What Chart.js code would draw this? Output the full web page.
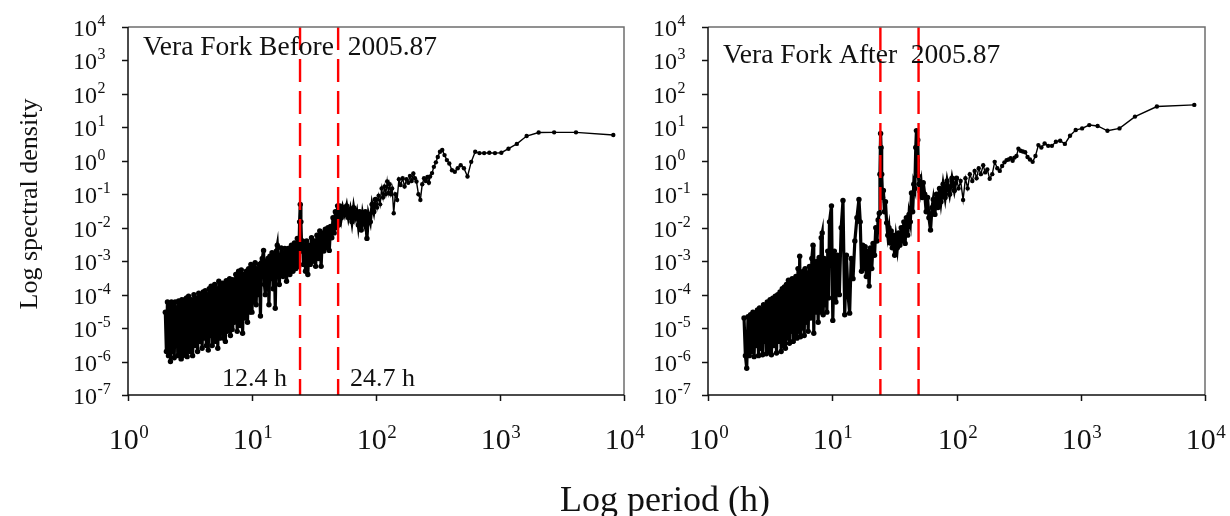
<!DOCTYPE html>
<html>
<head>
<meta charset="utf-8">
<script src="https://cdn.jsdelivr.net/npm/chart.js@4"></script>
<style>
  html, body { margin: 0; padding: 0; background: #fff; }
  #wrap { position: relative; width: 1230px; height: 516px; }
  #wrap canvas { position: absolute; left: 0; top: 0; }
</style>
</head>
<body>
<div id="wrap">
  <canvas id="chartBefore" width="1230" height="516"></canvas>
  <canvas id="chartAfter" width="1230" height="516"></canvas>
</div>
<script>
// Dane (okres w h, gestosc widmowa)
const beforePeriod = [
  2.00, 2.04, 2.08, 2.12, 2.16, 2.20, 2.24, 2.28, 2.32, 2.36, 2.40, 2.44, 2.48, 2.52, 2.56, 2.60, 2.64, 2.68, 2.72, 2.76,
  2.80, 2.84, 2.88, 2.92, 2.96, 3.00, 3.08, 3.16, 3.24, 3.32, 3.40, 3.48, 3.56, 3.64, 3.72, 3.80, 3.88, 3.96, 4.04, 4.12,
  4.20, 4.28, 4.36, 4.44, 4.52, 4.60, 4.68, 4.76, 4.84, 4.92,
  5.00, 5.10, 5.20, 5.30, 5.40, 5.50, 5.60, 5.70, 5.80, 5.90, 6.00, 6.10, 6.20, 6.30, 6.40, 6.50, 6.60, 6.70, 6.80, 6.90,
  7.00, 7.20, 7.40, 7.60, 7.80, 8.00, 8.20, 8.40, 8.60, 8.80, 9.00, 9.20, 9.40, 9.60, 9.80,
  10.0, 10.2, 10.4, 10.6, 10.8, 11.0, 11.2, 11.45, 11.7, 11.9, 12.1, 12.4, 12.6, 12.8, 13.0, 13.2, 13.45, 13.7, 13.95, 14.2,
  14.5, 14.8, 15.1, 15.4, 15.7, 16.0, 16.6, 17.2, 17.8, 18.4, 19.0, 19.6, 20.2,
  20.8, 21.4, 22.0, 22.6, 23.2, 23.8, 24.2, 24.5, 24.8,
  25.2, 25.6, 26.0, 26.5, 27.0, 27.6, 28.2, 28.8, 29.5, 30.2, 31.0, 31.8, 32.6, 33.4, 34.3, 35.2, 36.1, 37.0, 38.0, 39.0,
  40.0, 41.0, 42.0, 43.0, 44.0, 45.0, 46.0, 47.0, 48.0, 49.0,
  50, 51, 52.5, 54, 56, 58, 60, 62, 64, 66, 68, 70, 72, 74, 76, 78, 80, 82, 84.5, 87, 90, 93, 96, 99, 102, 105, 108,
  111, 114, 117, 120, 123, 126, 129, 132, 135, 139, 143, 148, 153, 158, 164, 170, 176, 182, 188, 194, 200, 206, 212,
  220, 228, 236, 244, 252, 260, 267,
  273, 283, 293, 304, 315, 328, 342, 357, 373, 390, 410, 432, 456, 482, 512, 547, 586, 631, 683, 745, 820, 911, 1025,
  1171, 1367, 1640, 2050, 2733, 4100, 8200
];
const beforeDensity = [
  3e-5, 2e-6, 6e-5, 1.5e-6, 5e-5, 1e-6, 6e-5, 2e-6, 5.5e-5, 1.3e-6, 6e-5, 3e-6, 4e-5, 1.5e-6, 6.5e-5, 2e-6, 5e-5, 1.2e-6, 7e-5, 1.5e-6,
  6e-5, 3e-6, 7e-5, 1.6e-6, 8e-5, 1.4e-6, 9e-5, 2e-6, 7e-5, 1.5e-6, 1e-4, 3e-6, 8e-5, 2e-6, 1.1e-4, 4e-6, 9e-5, 2.5e-6, 1.2e-4, 5e-6,
  1.3e-4, 3e-6, 1e-4, 2.2e-6, 1.5e-4, 6e-6, 1.8e-4, 3e-6, 1.4e-4, 8e-6,
  2e-4, 4e-6, 1.5e-4, 2.5e-6, 2.5e-4, 5e-6, 1.8e-4, 7e-6, 2.2e-4, 5e-6, 2e-4, 4e-6, 2.6e-4, 8e-6, 2e-4, 1e-5, 3e-4, 6e-6, 2.5e-4, 9e-6,
  2.8e-4, 1.5e-5, 4e-4, 8e-6, 5e-4, 1.2e-5, 5.5e-4, 7e-6, 4e-4, 2e-5, 5e-4, 1.5e-5, 6e-4, 3e-5, 8e-4,
  3e-5, 7e-4, 6e-5, 9e-4, 5e-5, 6e-4, 1e-4, 8e-4, 2.3e-5, 9e-4, 1.2e-3, 2.1e-3, 2e-4, 1e-4, 1e-3, 1.5e-4, 1.2e-3, 5e-5, 1.4e-3, 3e-4,
  1.8e-3, 1.5e-4, 1.5e-3, 3.9e-5, 2e-3, 3e-3, 2e-4, 2.5e-3, 3.5e-4, 2.4e-3, 2.5e-4, 2.4e-3, 4e-4,
  3e-3, 5e-4, 3.5e-3, 6e-4, 4.8e-3, 7e-4, 1.5e-2, 5e-2, 1.5e-2,
  2e-3, 4e-3, 8e-4, 3e-3, 5e-4, 4e-3, 4e-4, 3e-3, 8e-4, 5e-3, 1e-3, 4e-3, 7e-4, 6e-3, 1.2e-3, 8e-3, 7e-4, 7e-3, 2e-3, 9e-3,
  2.5e-3, 1e-2, 2.1e-3, 1.1e-2, 5e-3, 2e-2, 7e-3, 3e-2, 1e-2, 4.5e-2,
  1.2e-2, 4.5e-2, 2e-2, 4e-2, 2.5e-2, 4.5e-2, 2e-2, 3.5e-2, 1.5e-2, 4e-2, 2e-2, 3e-2, 1.2e-2, 3e-2, 8.5e-3, 2.5e-2, 1.5e-2, 3e-2, 4.8e-3, 2.5e-2, 1.5e-2, 5e-2, 3e-2, 7e-2, 4e-2, 9e-2, 5e-2,
  0.15, 0.08, 0.17, 0.10, 0.24, 0.11, 0.20, 0.10, 0.15, 0.027, 0.10, 0.068, 0.28, 0.19, 0.30, 0.17, 0.28, 0.22, 0.35, 0.25, 0.42, 0.30, 0.24,
  0.10, 0.068, 0.20, 0.30, 0.25, 0.33, 0.22,
  0.34, 0.43, 0.66, 0.90, 1.3, 1.86, 2.1, 1.48, 1.05, 0.83, 0.52, 0.47, 0.60, 0.74, 0.60, 0.34, 0.93, 1.86, 1.7, 1.7, 1.75, 1.7, 1.75,
  2.3, 3.2, 5.5, 7.0, 7.1, 7.1, 5.9
];

const afterPeriod = [
  1.95, 2.00, 2.05, 2.10, 2.15, 2.20, 2.25, 2.30, 2.35, 2.40, 2.45, 2.50, 2.55, 2.60, 2.65, 2.70, 2.75, 2.80, 2.85, 2.90,
  2.95, 3.00, 3.08, 3.16, 3.24, 3.32, 3.40, 3.48, 3.56, 3.64, 3.72, 3.80, 3.88, 3.96, 4.04, 4.12, 4.20, 4.28, 4.36, 4.44,
  4.52, 4.60, 4.68, 4.76, 4.84, 4.92, 5.00, 5.10, 5.20, 5.30, 5.40, 5.47, 5.55, 5.65, 5.75, 5.85, 5.95, 6.05, 6.15, 6.25,
  6.40, 6.55, 6.70, 6.85, 7.00, 7.10, 7.25, 7.40, 7.55, 7.70, 7.85, 8.00, 8.15, 8.30, 8.45, 8.60, 8.75, 8.90, 9.05, 9.20,
  9.35, 9.50, 9.86, 10.1, 10.4, 10.7, 11.0, 11.4, 11.8, 12.2, 12.6, 13.0, 13.4, 13.8, 14.2, 14.7, 15.2, 15.8, 16.4, 16.8,
  17.2, 17.6, 18.0, 18.4, 18.8, 19.3, 19.8, 20.3, 20.8, 21.3, 21.9, 22.4, 22.9, 23.4, 23.9, 24.2, 24.5, 24.7, 25.0, 25.4,
  25.8, 26.3, 26.8, 27.4, 28.0, 28.6, 29.2, 29.8, 30.4, 31.0, 31.8, 32.6, 33.4, 34.2, 35.0, 35.9, 36.8, 37.7, 38.6, 39.5,
  40.5, 41.5, 42.5, 43.4, 44.4, 45.3, 46.2, 47.0, 47.6, 48.2, 48.8, 49.4, 50.0, 51.0, 52.0, 53.0, 54.0, 55.5, 57.0, 58.5,
  60.0, 61.8, 63.5, 65.0, 67.0, 69.0, 71.0, 73.0, 75.0, 78.0, 81.0, 84.0, 88.0, 92.0, 96.0, 100, 104, 108, 113, 118,
  123, 128, 134, 140, 145, 151, 157, 164, 170, 177, 185, 194, 203, 213, 223, 233, 243, 253, 263,
  273, 283, 293, 304, 315, 328, 342, 357, 373, 390, 410, 432, 456, 482, 512, 547, 586, 631, 683, 745, 820, 911, 1025,
  1171, 1367, 1640, 2050, 2733, 4100, 8200
];
const afterDensity = [
  2e-5, 1.5e-6, 6.3e-7, 2.2e-5, 1.5e-6, 2.5e-5, 2e-6, 3e-5, 1.4e-6, 2.8e-5, 3e-6, 3.5e-5, 1.5e-6, 4e-5, 2.5e-6, 3.5e-5, 1.6e-6, 5e-5, 4e-6, 4e-5,
  1.7e-6, 6e-5, 2e-6, 7e-5, 1.6e-6, 7.8e-5, 3e-6, 9e-5, 1.8e-6, 1e-4, 4e-6, 1.2e-4, 2e-6, 1.5e-4, 3e-6, 1.7e-4, 2.5e-6, 2e-4, 5e-6, 2.7e-4,
  3.5e-6, 2.2e-4, 8e-6, 3e-4, 4e-6, 2.5e-4, 1e-5, 3.5e-4, 5e-6, 6e-4, 8e-6, 1.4e-3, 5.5e-6, 4e-4, 1e-5, 5e-4, 6e-6, 6e-4, 1.5e-5, 4.5e-4,
  8e-6, 7e-4, 2e-5, 1.2e-3, 3e-3, 7e-6, 8e-4, 3e-5, 1e-3, 1.5e-5, 1.3e-3, 3e-5, 5e-3, 7e-3, 2.5e-5, 1.2e-3, 5e-5, 1e-3, 3e-5, 2e-3,
  8e-5, 1.5e-2, 4.5e-2, 1.7e-5, 2e-3, 6e-5, 1.5e-3, 1e-4, 1e-2, 6.5e-2, 2.5e-5, 1.5e-3, 1e-4, 2.8e-5, 1.2e-3, 3e-4, 4e-3, 2e-2, 7e-2, 1.5e-2,
  5e-4, 3e-3, 6e-4, 2.7e-3, 3.5e-4, 2e-3, 1.8e-4, 2.5e-3, 6e-4, 3.4e-3, 1.5e-3, 1e-2, 4e-3, 1.7e-2, 2.7e-2, 0.4, 6.6, 2.5, 0.4, 8e-2,
  0.13, 3e-2, 6e-2, 1.4e-2, 6e-3, 1e-2, 3.5e-3, 8e-3, 2.5e-3, 6e-3, 1.5e-3, 5e-3, 2.5e-3, 7e-3, 3e-3, 1e-2, 4e-3, 1.5e-2, 3.4e-3, 2e-2,
  6e-3, 2.5e-2, 1.5e-2, 0.11, 3e-2, 0.2, 0.15, 2.5, 8.0, 1.0, 4.2, 0.35, 0.2, 0.12, 0.2, 8e-2, 0.22, 0.1, 3e-2, 8e-2,
  2e-2, 8.5e-3, 4e-2, 7e-2, 2.5e-2, 0.1, 4e-2, 0.15, 6e-2, 0.2, 8e-2, 0.25, 0.1, 0.3, 0.13, 0.3, 0.15, 0.25, 6.8e-2, 0.3,
  0.15, 0.4, 0.25, 0.5, 0.3, 0.6, 0.4, 0.74, 0.45, 0.55, 0.29, 0.4, 0.93, 0.6, 0.5, 0.7, 0.9, 1.05, 1.1,
  1.2, 1.0, 1.25, 1.4, 2.3, 2.0, 1.9, 1.8, 1.3, 1.1, 0.93, 1.4, 2.95, 2.5, 3.3, 2.8, 2.8, 3.7, 4.0, 3.2, 5.6, 8.3, 9.3,
  11.7, 11, 7.9, 9.3, 21, 42, 47
];

// Linie przerywane (okresy plywow)
const tidalPeriods = [24.4, 49.5];
// Podzialki osi (wykladniki potegi 10)
const xTickExponents = [0, 1, 2, 3, 4];
const yTickExponents = [-7, -6, -5, -4, -3, -2, -1, 0, 1, 2, 3, 4];

const SERIF = "'Liberation Serif', 'Times New Roman', serif";
// do tego okresu punkty leza gesto - rysujemy grubiej
const DENSE_LIMIT = 100;

function toPoints(xs, ys) {
  return xs.map((x, i) => ({ x: x, y: ys[i] }));
}

// tekst "10^n" z indeksem gornym
function drawPower(ctx, x, baseY, sup, fs, sfs, rise, align) {
  ctx.font = fs + 'px ' + SERIF;
  const w1 = ctx.measureText('10').width;
  ctx.font = sfs + 'px ' + SERIF;
  const w2 = ctx.measureText(sup).width;
  let start = x;
  if (align === 'center') start = x - (w1 + w2) / 2;
  ctx.textAlign = 'left';
  ctx.textBaseline = 'alphabetic';
  ctx.font = fs + 'px ' + SERIF;
  ctx.fillText('10', start, baseY);
  ctx.font = sfs + 'px ' + SERIF;
  ctx.fillText(sup, start + w1 + 0.5, baseY - rise);
}

const framePlugin = {
  id: 'frame',
  afterDraw(chart, args, opts) {
    const ctx = chart.ctx;
    const a = chart.chartArea;
    const xs = chart.scales.x;
    const ys = chart.scales.y;
    ctx.save();

    // gorna i prawa krawedz - szara
    ctx.lineWidth = 1.5;
    ctx.strokeStyle = '#6e6e6e';
    ctx.beginPath();
    ctx.moveTo(a.left, a.top);
    ctx.lineTo(a.right, a.top);
    ctx.lineTo(a.right, a.bottom);
    ctx.stroke();

    // osie
    ctx.strokeStyle = '#111';
    ctx.beginPath();
    ctx.moveTo(a.left, a.top);
    ctx.lineTo(a.left, a.bottom);
    ctx.lineTo(a.right, a.bottom);
    ctx.stroke();

    ctx.fillStyle = '#111';
    yTickExponents.forEach(e => {
      const py = Math.round(ys.getPixelForValue(Math.pow(10, e))) + 0.5;
      ctx.beginPath();
      ctx.moveTo(a.left - 6, py);
      ctx.lineTo(a.left, py);
      ctx.stroke();
      drawPower(ctx, a.left - 55, py + 8, String(e), 24, 16, 10, 'left');
    });
    xTickExponents.forEach(e => {
      const px = Math.round(xs.getPixelForValue(Math.pow(10, e))) + 0.5;
      ctx.beginPath();
      ctx.moveTo(px, a.bottom);
      ctx.lineTo(px, a.bottom + 6);
      ctx.stroke();
      drawPower(ctx, px, 449, String(e), 30, 19, 11, 'center');
    });

    // tytul panelu
    ctx.font = '27.5px ' + SERIF;
    ctx.textAlign = 'left';
    ctx.textBaseline = 'alphabetic';
    ctx.fillText(opts.title, a.left + 15, opts.titleY);

    (opts.notes || []).forEach(n => {
      ctx.font = '26px ' + SERIF;
      ctx.fillText(n.text, n.x, n.y);
    });

    if (opts.axisTitles) {
      ctx.font = '36px ' + SERIF;
      ctx.textAlign = 'center';
      ctx.fillText('Log period (h)', 665, 511);
      ctx.save();
      ctx.translate(37, 204);
      ctx.rotate(-Math.PI / 2);
      ctx.font = '26px ' + SERIF;
      ctx.fillText('Log spectral density', 0, 0);
      ctx.restore();
    }
    ctx.restore();
  }
};

function makeChart(canvasId, periods, density, pad, frameOpts) {
  const pts = toPoints(periods, density);
  // gesta czesc widma (krotkie okresy) i rzadka czesc (dlugie okresy)
  const densePts = pts.filter(p => p.x <= DENSE_LIMIT);
  const sparsePts = pts.filter(p => p.x >= densePts[densePts.length - 1].x);
  const datasets = [{
    data: densePts,
    showLine: true,
    borderColor: '#000',
    borderWidth: 3.2,
    backgroundColor: '#000',
    pointRadius: 2.7,
    pointBorderWidth: 0,
    order: 2
  }, {
    data: sparsePts,
    showLine: true,
    borderColor: '#000',
    borderWidth: 1.4,
    backgroundColor: '#000',
    pointRadius: 2.2,
    pointBorderWidth: 0,
    order: 2
  }];
  tidalPeriods.forEach(p => {
    datasets.push({
      data: [{ x: p, y: 1e4 }, { x: p, y: 1e-7 }],
      showLine: true,
      borderColor: '#ff0000',
      borderWidth: 2.4,
      borderDash: [23, 9],
      pointRadius: 0,
      order: 1
    });
  });
  return new Chart(document.getElementById(canvasId), {
    type: 'scatter',
    data: { datasets: datasets },
    options: {
      responsive: false,
      animation: false,
      events: [],
      layout: { padding: pad },
      plugins: { legend: { display: false }, tooltip: { enabled: false }, frame: frameOpts },
      scales: {
        x: { type: 'logarithmic', min: 1, max: 10000, display: false },
        y: { type: 'logarithmic', min: 1e-7, max: 1e4, display: false }
      }
    },
    plugins: [framePlugin]
  });
}

makeChart('chartBefore', beforePeriod, beforeDensity,
  { left: 128, top: 27, right: 606, bottom: 121 },
  {
    title: 'Vera Fork Before  2005.87', titleY: 55, axisTitles: true,
    notes: [{ text: '12.4 h', x: 222, y: 386 }, { text: '24.7 h', x: 350, y: 386 }]
  });

makeChart('chartAfter', afterPeriod, afterDensity,
  { left: 708, top: 27, right: 25, bottom: 121 },
  { title: 'Vera Fork After  2005.87', titleY: 63, axisTitles: false, notes: [] });
</script>
</body>
</html>
